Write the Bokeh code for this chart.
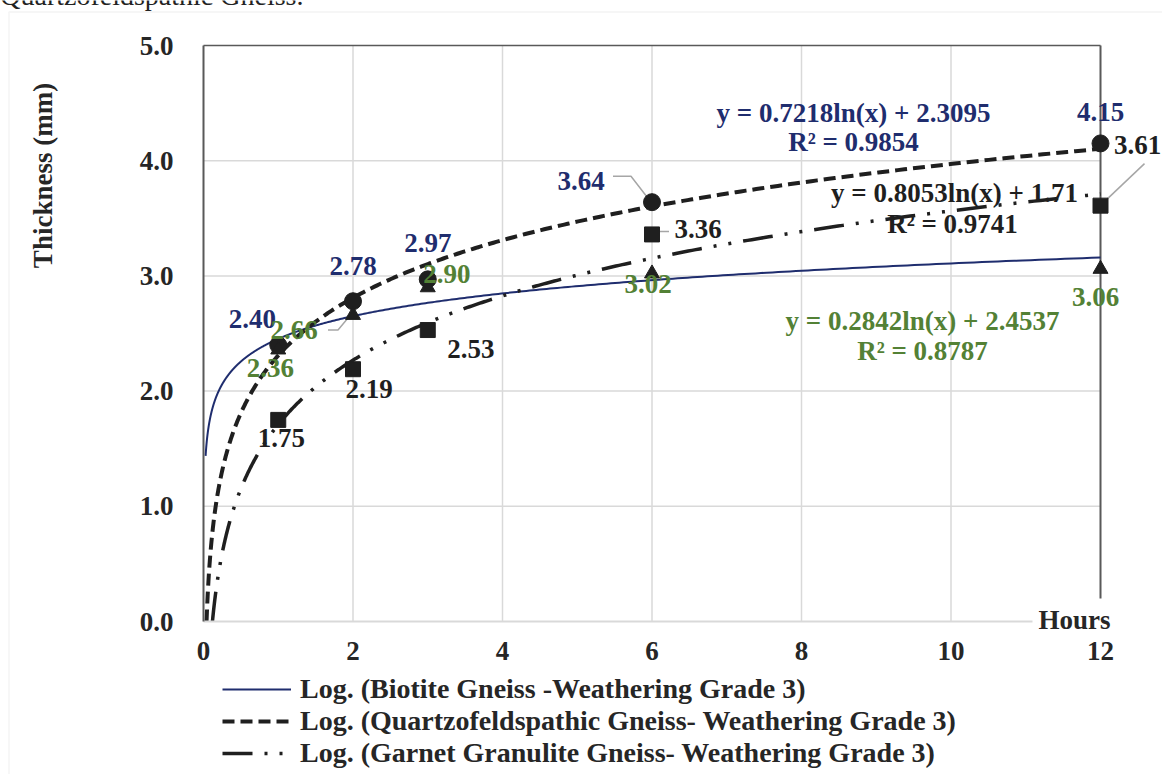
import numpy as np
from bokeh.plotting import figure
from bokeh.models import (Range1d, FixedTicker, NumeralTickFormatter, Label,
                          Legend, LegendItem, BoxAnnotation, ColumnDataSource)
from bokeh.core.properties import value
from bokeh.embed import file_html
from bokeh.resources import INLINE

# ---------------- data ----------------
hours = [1, 2, 3, 6, 12]
biotite = [2.36, 2.66, 2.90, 3.02, 3.06]      # triangles
quartzo = [2.40, 2.78, 2.97, 3.64, 4.15]      # circles
garnet = [1.75, 2.19, 2.53, 3.36, 3.61]       # squares
biotite_fit = [0.2842, 2.4537]                 # slope, intercept of ln fit
quartzo_fit = [0.7218, 2.3095]
garnet_fit = [0.8053, 1.71]
biotite_r2 = "0.8787"
quartzo_r2 = "0.9854"
garnet_r2 = "0.9741"
x_ticks = [0, 2, 4, 6, 8, 10, 12]
y_ticks = [0, 1, 2, 3, 4, 5]
legend_labels = ["Log. (Biotite Gneiss -Weathering Grade 3)",
                 "Log. (Quartzofeldspathic Gneiss- Weathering Grade 3)",
                 "Log. (Garnet Granulite Gneiss- Weathering Grade 3)"]
caption = "Quartzofeldspathic Gneiss."

# ---------------- styles ----------------
FONT = "Liberation Serif"
FS = "27px"
NAVY = "#1f2d6e"
GREEN = "#538135"
DARK = "#1f1f1f"
TXT = "#262626"
AXIS_DARK = "#595959"
GRID = "#d9d9d9"

W, H = 1162, 774
# chart box: x 0..12 -> px 203..1100 ; y 0..5 -> px 621..45
BX0, BX1, BY0, BY1 = 203, 1100, 621, 45
X_MAX, Y_MAX = 12, 5
SX = (BX1 - BX0) / X_MAX
SY = (BY0 - BY1) / Y_MAX


def px2x(px):
    return (px - BX0) / SX


def px2y(py):
    return (BY0 - py) / SY


p = figure(width=W, height=H, output_backend="svg", toolbar_location=None,
           x_range=Range1d(px2x(0), px2x(W)), y_range=Range1d(px2y(H), px2y(0)),
           min_border_left=0, min_border_right=0,
           min_border_top=0, min_border_bottom=0)
p.outline_line_color = None
p.background_fill_color = "white"
p.border_fill_color = "white"
p.xgrid.visible = False
p.ygrid.visible = False

# axes placed at the data origin
p.xaxis.fixed_location = 0
p.yaxis.fixed_location = 0
p.xaxis.ticker = FixedTicker(ticks=x_ticks)
p.yaxis.ticker = FixedTicker(ticks=y_ticks)
p.yaxis.formatter = NumeralTickFormatter(format="0.0")
p.xaxis.bounds = (0, 12)
p.yaxis.bounds = (0, 5)
for ax in (p.xaxis[0], p.yaxis[0]):
    ax.major_tick_line_color = None
    ax.minor_tick_line_color = None
    ax.major_tick_out = 0
    ax.major_tick_in = 0
    ax.minor_tick_out = 0
    ax.minor_tick_in = 0
    ax.major_label_text_font = FONT
    ax.major_label_text_font_style = "bold"
    ax.major_label_text_font_size = FS
    ax.major_label_text_color = TXT
p.xaxis.axis_line_color = GRID
p.xaxis.axis_line_width = 2
p.yaxis.axis_line_color = AXIS_DARK
p.yaxis.axis_line_width = 2
p.xaxis.major_label_standoff = 20
p.yaxis.major_label_standoff = 30

# gridlines inside the chart box
gx = [t for t in x_ticks if 0 < t < 12]
gy = [t for t in y_ticks if 0 < t < 5]
p.segment(x0=gx, y0=[0] * len(gx), x1=gx, y1=[5] * len(gx),
          line_color=GRID, line_width=1.5)
p.segment(x0=[0] * len(gy), y0=gy, x1=[12] * len(gy), y1=gy,
          line_color=GRID, line_width=1.5)

# box top / right edges
p.segment(x0=[0], y0=[5], x1=[12], y1=[5], line_color=AXIS_DARK, line_width=1.5)
p.segment(x0=[12], y0=[0], x1=[12], y1=[5], line_color=AXIS_DARK, line_width=2)


# trend lines (from the fitted equations shown on the chart)
def trend(fit):
    start = max(0.028, float(np.exp(-fit[1] / fit[0])))
    xs = np.geomspace(start, 12, 600)
    return xs, fit[0] * np.log(xs) + fit[1]


r_bio = p.line(*trend(biotite_fit), line_color=NAVY, line_width=2)
r_qtz = p.line(*trend(quartzo_fit), line_color=DARK, line_width=4,
               line_dash="12 6")
r_gar = p.line(*trend(garnet_fit), line_color=DARK, line_width=3.5,
               line_dash="30 12 3 12 3 12")

# leader lines (pixel offsets from their points)
leaders = [
    (hours[3], quartzo[3], [(-39, -26), (-21, -26), (-4, -4)]),
    (hours[1], biotite[1], [(-25, 15), (-15, 15), (-5, 3)]),
    (hours[3], garnet[3], [(8, -3), (17, -3)]),
    (hours[4], garnet[4], [(5, -5), (44, -42)]),
]
lx, ly = [], []
for (x, y, offs) in leaders:
    lx.append([x + dx / SX for dx, dy in offs])
    ly.append([y - dy / SY for dx, dy in offs])
p.multi_line(lx, ly, line_color="#a6a6a6", line_width=1.5)

# markers
p.scatter(hours, garnet, marker="square", size=15, color=DARK)
p.scatter(hours, quartzo, marker="circle", size=17, color=DARK)
p.scatter(hours, biotite, marker="triangle", size=15, color=DARK)

# data labels
label_sets = [
    (quartzo, NAVY, [-26, 0, 0, -71, 0], [-26, -35, -36, -21, -31]),
    (biotite, GREEN, [-8, -59, 19, -4, -5], [18, 15, -13, 10, 28]),
    (garnet, DARK, [3, 16, 43, 46, 37], [18, 20, 19, -5, -61]),
]
for vals, col, xo, yo in label_sets:
    src = ColumnDataSource(dict(x=hours, y=vals, t=["%.2f" % v for v in vals],
                                xo=xo, yo=yo))
    p.text(x="x", y="y", text="t", x_offset="xo", y_offset="yo", source=src,
           text_font=value(FONT), text_font_style="bold", text_font_size=FS,
           text_color=col, text_align="center", text_baseline="middle")


# equations
def eq_text(fit):
    b = ("%.4f" % fit[1]).rstrip("0").rstrip(".")
    return "y = %.4fln(x) + %s" % (fit[0], b)


eqs = [
    (quartzo_fit, quartzo_r2, NAVY, 853, 112, 853, 141),
    (garnet_fit, garnet_r2, DARK, 954, 192, 952, 223),
    (biotite_fit, biotite_r2, GREEN, 922, 320, 922, 350),
]
for fit, r2, col, ex, ey, rx, ry in eqs:
    for txt, tx, ty in ((eq_text(fit), ex, ey), ("R² = " + r2, rx, ry)):
        p.add_layout(Label(x=px2x(tx), y=px2y(ty), text=txt, text_font=FONT,
                           text_font_style="bold", text_font_size=FS,
                           text_color=col, text_align="center",
                           text_baseline="middle"))

# axis titles
p.add_layout(Label(x=px2x(42), y=px2y(175), text="Thickness (mm)", angle=np.pi / 2,
                   text_font=FONT, text_font_style="bold", text_font_size=FS,
                   text_color=TXT, text_align="center", text_baseline="middle"))
p.add_layout(Label(x=px2x(1074), y=px2y(619), text="Hours",
                   text_font=FONT, text_font_style="bold", text_font_size=FS,
                   text_color=TXT, text_align="center", text_baseline="middle",
                   background_fill_color="white", background_fill_alpha=1.0,
                   padding=6))

# caption of the page, cut by the top edge
p.add_layout(Label(x=px2x(303), y=px2y(10), text=caption,
                   text_font=FONT, text_font_size="28px", text_color="#222222",
                   text_align="right", text_baseline="bottom"))

# page frame lines
p.add_layout(BoxAnnotation(left=px2x(8.5), right=px2x(1400), top=px2y(11.5),
                           bottom=px2y(1000), fill_alpha=0, line_color="#d9d9d9",
                           line_width=1.5))

# legend
legend = Legend(items=[LegendItem(label=legend_labels[0], renderers=[r_bio]),
                       LegendItem(label=legend_labels[1], renderers=[r_qtz]),
                       LegendItem(label=legend_labels[2], renderers=[r_gar])],
                location=(222, 5), orientation="vertical",
                glyph_width=69, glyph_height=32, label_height=32,
                label_standoff=9, spacing=0, padding=0, margin=0,
                border_line_color=None, background_fill_alpha=0,
                label_text_font=FONT, label_text_font_style="bold",
                label_text_font_size="28px", label_text_color=TXT)
p.add_layout(legend)

open("out.html", "w").write(file_html(p, INLINE))
